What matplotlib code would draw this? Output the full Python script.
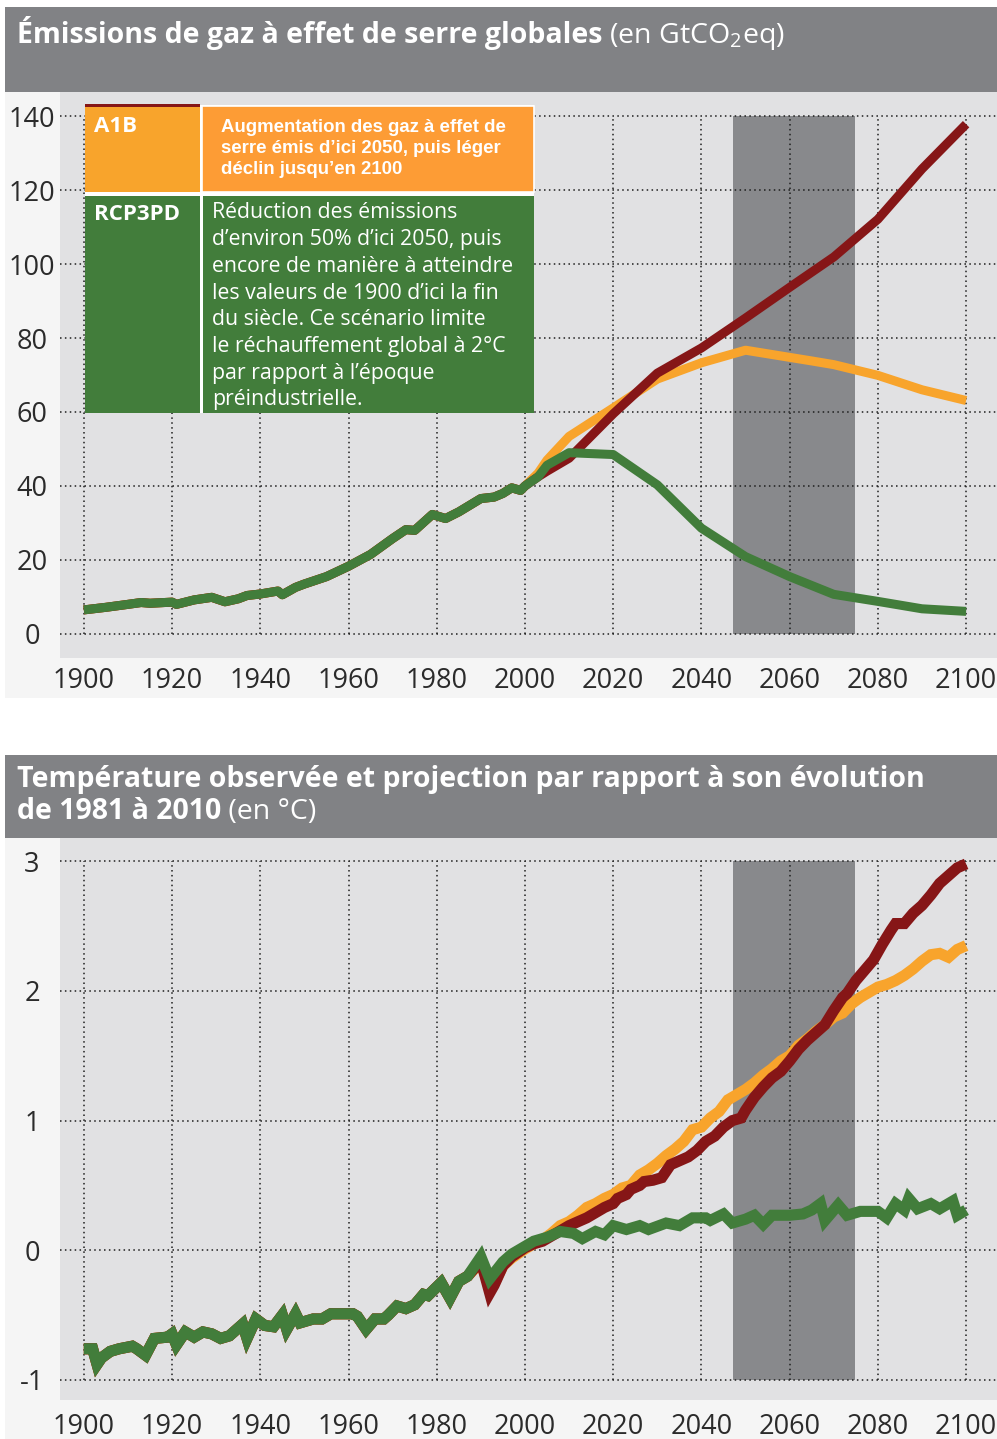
import matplotlib
matplotlib.use('Agg')
import matplotlib.pyplot as plt
from matplotlib.patches import Rectangle
from matplotlib.transforms import blended_transform_factory

# --- emissions (GtCO2eq) ---
em_hist_years = [1900, 1905, 1910, 1913, 1915, 1920, 1921, 1925, 1929, 1932, 1935, 1937,
                 1940, 1944, 1945, 1948, 1950, 1955, 1960, 1965, 1970, 1973, 1975, 1979,
                 1982, 1985, 1990, 1993, 1995, 1997, 1999, 2000]
em_hist = [6.5, 7.2, 8.0, 8.5, 8.3, 8.6, 8.0, 9.2, 9.9, 8.7, 9.5, 10.4,
           10.8, 11.6, 10.6, 12.6, 13.5, 15.5, 18.3, 21.5, 25.8, 28.2, 28.0, 32.3,
           31.2, 33.0, 36.6, 37.0, 38.0, 39.5, 38.8, 40.0]

em_green_years = [2003, 2005, 2010, 2020, 2030, 2040, 2050, 2060, 2070, 2080, 2090, 2100]
em_green = [42.5, 45.6, 49.0, 48.5, 40.3, 28.6, 20.9, 15.5, 10.7, 8.8, 6.8, 6.1]
em_red_years = [2003, 2005, 2010, 2020, 2030, 2040, 2050, 2060, 2070, 2080, 2090, 2100]
em_red = [42.5, 44.0, 47.5, 59.5, 70.5, 77.3, 85.4, 93.7, 101.9, 112.1, 125.7, 137.8]
em_orange_years = [2003, 2005, 2010, 2020, 2030, 2040, 2050, 2065, 2070, 2080, 2090, 2100]
em_orange = [43.5, 47.0, 53.4, 61.1, 68.9, 73.3, 76.7, 73.8, 72.8, 69.9, 66.0, 63.1]

# --- temperature anomaly vs 1981-2010 (°C) ---
t_hist_years = [1900, 1902, 1903, 1904, 1906, 1908, 1911, 1912, 1914, 1916, 1919, 1920,
                1921, 1923, 1925, 1927, 1929, 1931, 1933, 1935, 1936, 1937, 1939, 1941,
                1943, 1945, 1946, 1948, 1949, 1952, 1954, 1956, 1958, 1961, 1962, 1964,
                1966, 1968, 1969, 1971, 1973, 1975, 1977, 1978, 1981, 1983, 1985, 1987]
t_hist = [-0.76, -0.76, -0.88, -0.83, -0.78, -0.76, -0.74, -0.76, -0.81, -0.68, -0.67, -0.645,
          -0.73, -0.63, -0.67, -0.63, -0.645, -0.68, -0.66, -0.60, -0.57, -0.68, -0.53, -0.58,
          -0.59, -0.50, -0.61, -0.49, -0.56, -0.53, -0.53, -0.49, -0.49, -0.49, -0.51, -0.61,
          -0.53, -0.53, -0.50, -0.43, -0.45, -0.42, -0.34, -0.35, -0.25, -0.37, -0.24, -0.20]

t_green_years = [1990, 1992, 1995, 1997, 2000, 2002, 2005, 2008, 2011, 2013, 2016, 2018,
                 2020, 2023, 2026, 2028, 2032, 2035, 2038, 2041, 2042, 2045, 2047, 2050,
                 2052, 2054, 2056, 2060, 2063, 2065, 2067, 2068, 2071, 2073, 2076, 2080,
                 2082, 2084, 2086, 2087, 2089, 2092, 2094, 2097, 2098, 2100]
t_green = [-0.05, -0.22, -0.09, -0.03, 0.03, 0.07, 0.10, 0.145, 0.13, 0.09, 0.145, 0.12,
           0.19, 0.16, 0.19, 0.16, 0.21, 0.19, 0.25, 0.25, 0.23, 0.28, 0.21, 0.24,
           0.27, 0.20, 0.27, 0.27, 0.28, 0.31, 0.36, 0.23, 0.35, 0.27, 0.30, 0.30,
           0.25, 0.36, 0.31, 0.40, 0.32, 0.36, 0.32, 0.38, 0.27, 0.31]
t_red_years = [1990, 1992, 1993, 1995, 1997, 2000, 2002, 2004, 2006, 2008, 2010, 2012,
               2014, 2016, 2018, 2020, 2021, 2023, 2024, 2026, 2027, 2029, 2031, 2033,
               2035, 2037, 2039, 2041, 2043, 2045, 2047, 2049, 2050, 2052, 2054, 2056,
               2058, 2060, 2062, 2064, 2066, 2068, 2070, 2072, 2073, 2075, 2077, 2079,
               2081, 2083, 2084, 2086, 2088, 2090, 2092, 2094, 2096, 2098, 2100]
t_red = [-0.08, -0.33, -0.27, -0.12, -0.05, 0.02, 0.05, 0.07, 0.11, 0.15, 0.19, 0.22,
         0.25, 0.29, 0.33, 0.36, 0.40, 0.43, 0.47, 0.50, 0.53, 0.54, 0.56, 0.66,
         0.69, 0.72, 0.77, 0.84, 0.88, 0.95, 1.00, 1.02, 1.08, 1.18, 1.26, 1.33,
         1.38, 1.46, 1.55, 1.62, 1.68, 1.74, 1.85, 1.95, 1.98, 2.08, 2.16, 2.24,
         2.36, 2.47, 2.52, 2.52, 2.60, 2.66, 2.74, 2.83, 2.89, 2.95, 2.98]
t_orange_years = [1990, 1992, 1993, 1995, 1997, 2000, 2002, 2004, 2006, 2008, 2010, 2012,
                  2014, 2016, 2018, 2020, 2022, 2024, 2026, 2028, 2030, 2032, 2034, 2036,
                  2038, 2040, 2042, 2044, 2046, 2048, 2050, 2052, 2054, 2056, 2058, 2060,
                  2062, 2064, 2066, 2068, 2070, 2072, 2074, 2076, 2078, 2080, 2082, 2084,
                  2086, 2088, 2090, 2092, 2094, 2096, 2098, 2100]
t_orange = [-0.09, -0.30, -0.26, -0.12, -0.06, 0.01, 0.05, 0.08, 0.13, 0.19, 0.22, 0.27,
            0.33, 0.36, 0.40, 0.43, 0.48, 0.50, 0.58, 0.62, 0.67, 0.73, 0.78, 0.84,
            0.93, 0.95, 1.02, 1.07, 1.16, 1.20, 1.24, 1.29, 1.35, 1.40, 1.46, 1.50,
            1.58, 1.63, 1.69, 1.74, 1.80, 1.83, 1.90, 1.95, 1.99, 2.03, 2.05, 2.08,
            2.12, 2.17, 2.23, 2.28, 2.29, 2.26, 2.32, 2.35]

x_ticks = [1900, 1920, 1940, 1960, 1980, 2000, 2020, 2040, 2060, 2080, 2100]
em_ticks = [0, 20, 40, 60, 80, 100, 120, 140]
t_ticks = [-1, 0, 1, 2, 3]
t_labels = ['-1', '0', '1', '2', '3']
shade_years = [2047.2, 2074.7]

title1_bold = 'Émissions de gaz à effet de serre globales'
title1_unit = ' (en GtCO$_2$eq)'
title2_line1 = 'Température observée et projection par rapport à son évolution'
title2_bold = 'de 1981 à 2010'
title2_unit = ' (en °C)'

a1b_text = ['Augmentation des gaz à effet de',
            'serre émis d’ici 2050, puis léger',
            'déclin jusqu’en 2100']
rcp_text = ['Réduction des émissions',
            'd’environ 50% d’ici 2050, puis',
            'encore de manière à atteindre',
            'les valeurs de 1900 d’ici la fin',
            'du siècle. Ce scénario limite',
            'le réchauffement global à 2°C',
            'par rapport à l’époque',
            'préindustrielle.']

HEADER = '#818285'
PANEL = '#f5f5f5'
AX_BG = '#e1e1e3'
SHADE = '#88898c'
RED = '#861617'
ORANGE = '#f8a42c'
ORANGE2 = '#fd9c35'
GREEN = '#427d3b'
TXT = '#2b2b2b'
GRID = '#1e1e1e'

W, H = 997, 1439
plt.rcParams['font.family'] = ['Open Sans', 'DejaVu Sans']
plt.rcParams['mathtext.fontset'] = 'custom'
plt.rcParams['mathtext.rm'] = 'Open Sans'

fig = plt.figure(figsize=(W / 100, H / 100), dpi=100)
fig.patch.set_facecolor('white')


def px_rect(x0, y0, x1, y1, color, z=-5, **kw):
    fig.add_artist(Rectangle((x0 / W, 1 - y1 / H), (x1 - x0) / W, (y1 - y0) / H,
                             transform=fig.transFigure, facecolor=color,
                             edgecolor=kw.pop('edgecolor', 'none'), zorder=z, **kw))


def px_text(x, y, s, **kw):
    return fig.text(x / W, 1 - y / H, s, **kw)


def title_pair(x, y, bold, regular, size=20.5):
    t = px_text(x, y, bold, fontsize=size, fontweight='bold', color='white', va='baseline')
    fig.canvas.draw()
    bb = t.get_window_extent(fig.canvas.get_renderer())
    px_text(bb.x1, y, regular, fontsize=size, color='white', va='baseline')


def setup_axes(ax, yticks, ylabels, label_y):
    ax.set_facecolor(AX_BG)
    for s in ax.spines.values():
        s.set_visible(False)
    ax.set_xticks([])
    ax.set_yticks([])
    lo, hi = yticks[0], yticks[-1]
    ax.fill_between(shade_years, lo, hi, color=SHADE, lw=0, zorder=1)
    for v in yticks:
        ax.axhline(v, color=GRID, lw=1.1, ls=(0, (1, 2.2)), zorder=2)
    ax.vlines(x_ticks, lo, hi, color=GRID, lw=1.1, linestyles=[(0, (1, 2.2))], zorder=2)
    ty = blended_transform_factory(ax.transAxes, ax.transData)
    for v, lab in zip(yticks, ylabels):
        ax.text(-0.0299, v, lab, transform=ty, ha='center', va='center_baseline',
                fontsize=19.5, color=TXT)
    tx = blended_transform_factory(ax.transData, ax.transAxes)
    for yr in x_ticks:
        ax.text(yr, label_y, str(yr), transform=tx, ha='center', va='center_baseline',
                fontsize=19.5, color=TXT)


# panel backgrounds
px_rect(5, 7, 997, 92, HEADER)
px_rect(5, 92, 997, 698, PANEL)
px_rect(5, 755, 997, 838, HEADER)
px_rect(5, 838, 997, 1439, PANEL)

# --- top chart ---
ax1 = fig.add_axes([60 / W, 1 - 658 / H, 937 / W, 566 / H])
ax1.set_xlim(1894.6, 2107)
ax1.set_ylim(-6.5, 146.5)
setup_axes(ax1, em_ticks, [str(v) for v in em_ticks], -0.0353)
lw = 6.5
ax1.plot(em_hist_years + em_orange_years, em_hist + em_orange, color=ORANGE, lw=lw,
         solid_capstyle='butt', zorder=3)
ax1.plot(em_hist_years + em_red_years, em_hist + em_red, color=RED, lw=lw,
         solid_capstyle='butt', zorder=4)
ax1.plot(em_hist_years + em_green_years, em_hist + em_green, color=GREEN, lw=lw,
         solid_capstyle='butt', zorder=5)

# --- bottom chart ---
ax2 = fig.add_axes([60 / W, 1 - 1400 / H, 937 / W, 562 / H])
ax2.set_xlim(1894.6, 2107)
ax2.set_ylim(-1.155, 3.18)
setup_axes(ax2, t_ticks, t_labels, -0.0427)
lw2 = 8
ax2.plot(t_hist_years + t_orange_years, t_hist + t_orange, color=ORANGE, lw=lw2,
         solid_capstyle='butt', solid_joinstyle='miter', zorder=3)
ax2.plot(t_hist_years + t_red_years, t_hist + t_red, color=RED, lw=lw2,
         solid_capstyle='butt', solid_joinstyle='miter', zorder=4)
ax2.plot(t_hist_years + t_green_years, t_hist + t_green, color=GREEN, lw=lw2,
         solid_capstyle='butt', solid_joinstyle='miter', zorder=5)

# --- titles ---
title_pair(17, 43, title1_bold, title1_unit)
px_text(17, 787, title2_line1, fontsize=20.5, fontweight='bold', color='white', va='baseline')
title_pair(17, 819, title2_bold, title2_unit)

# --- legend table ---
px_rect(85, 105, 534, 413, 'white', z=10)
px_rect(85, 106, 200, 192, ORANGE, z=11)
px_rect(85, 104, 200, 106.5, RED, z=11)
px_rect(202, 106, 534, 192, ORANGE2, z=11, edgecolor='white', linewidth=1.2)
px_rect(85, 196, 200, 413, GREEN, z=11)
px_rect(203, 196, 534, 413, GREEN, z=11)
px_text(94, 126, 'A1B', fontsize=16, fontweight='bold', color='white', va='center', zorder=12)
px_text(94, 214, 'RCP3PD', fontsize=16, fontweight='bold', color='white', va='center', zorder=12)
for i, line in enumerate(a1b_text):
    px_text(221, 127 + 21.5 * i, line, fontsize=13.4, fontweight='bold', color='white',
            family='Liberation Sans', va='center', zorder=12)
for i, line in enumerate(rcp_text):
    px_text(212, 213 + 26.7 * i, line, fontsize=15.3, color='white', va='center', zorder=12)

fig.savefig('out.png', dpi=100, facecolor='white')
